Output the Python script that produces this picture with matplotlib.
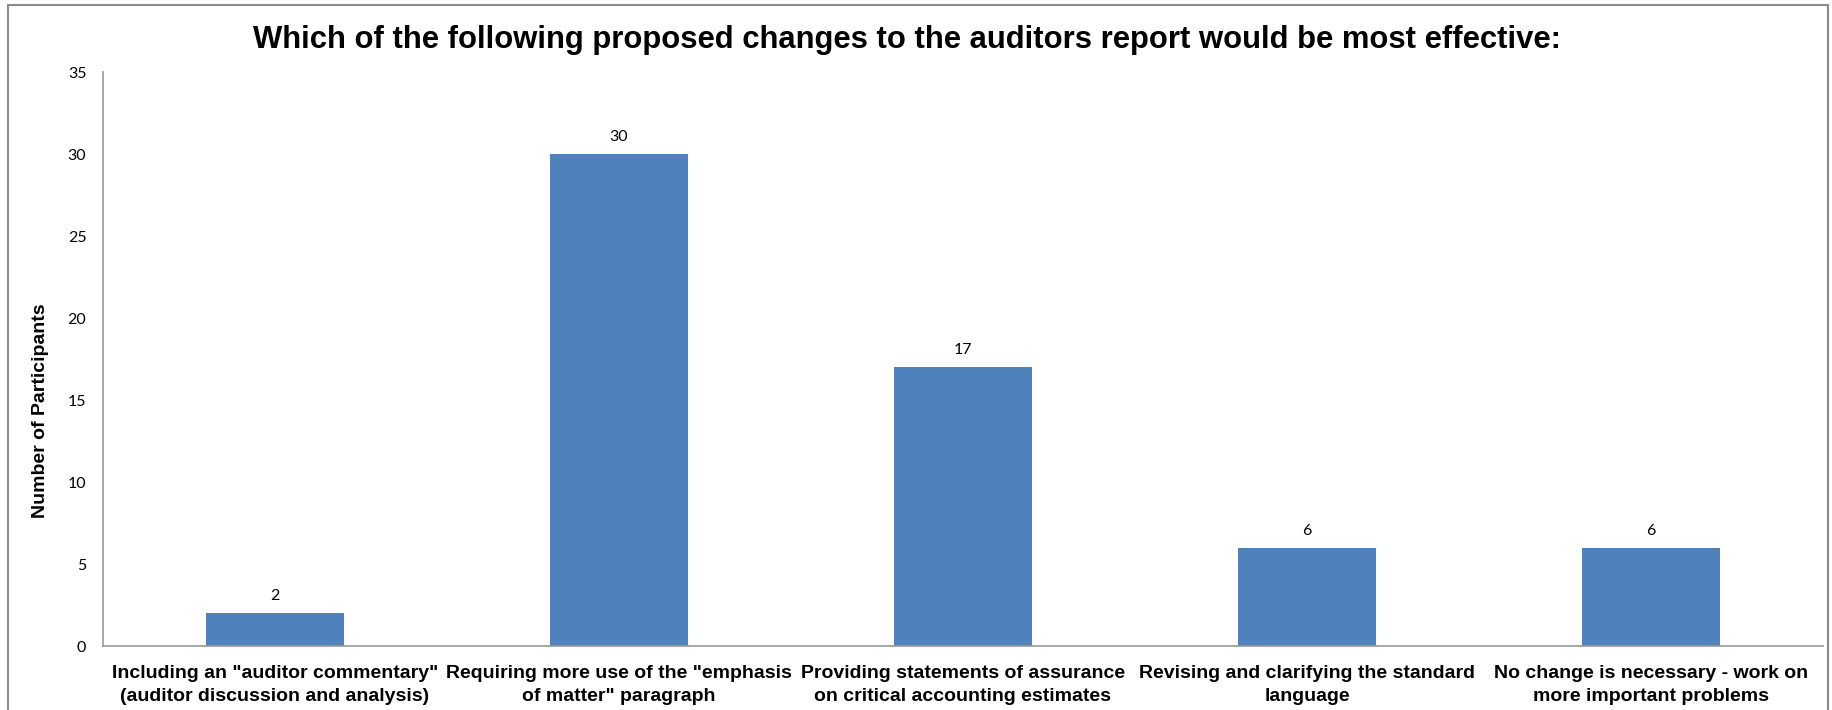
import matplotlib.pyplot as plt
from matplotlib.patches import Rectangle
import numpy as np

# === data ===
categories = ['Including an "auditor commentary"\n(auditor discussion and analysis)',
              'Requiring more use of the "emphasis\nof matter" paragraph',
              'Providing statements of assurance\non critical accounting estimates',
              'Revising and clarifying the standard\nlanguage',
              'No change is necessary - work on\nmore important problems']
participants = [2, 30, 17, 6, 6]
y_ticks = [0, 5, 10, 15, 20, 25, 30, 35]

W, H = 1832, 710
fig = plt.figure(figsize=(W / 100, H / 100), dpi=100)

# axes box in pixels: left 103, right 1823, top 72, bottom 646
ax = fig.add_axes([103 / W, 1 - 646 / H, (1823 - 103) / W, (646 - 72) / H])

x = np.arange(len(categories))
bars = ax.bar(x, participants, width=0.4, color='#4F81BD', zorder=2)

for xi, v in zip(x, participants):
    ax.annotate(str(v), (xi, v), xytext=(0, 7), textcoords='offset points',
                ha='center', va='bottom', fontsize=11.5, family='Lato')

ax.set_xlim(-0.5, len(categories) - 0.5)
ax.set_ylim(0, 35)
ax.set_yticks(y_ticks)
ax.set_yticklabels([str(t) for t in y_ticks], family='Lato', fontsize=11.5)
ax.set_xticks(x)
ax.set_xticklabels(categories, family='Liberation Sans', fontweight='bold',
                   fontsize=14, linespacing=1.4)
ax.tick_params(axis='both', length=0)
ax.tick_params(axis='y', pad=12)
ax.tick_params(axis='x', pad=14)

for side in ['top', 'right']:
    ax.spines[side].set_visible(False)
for side in ['left', 'bottom']:
    ax.spines[side].set_color('#999999')
    ax.spines[side].set_linewidth(1.2)

# title and y label
fig.text(907 / W, 1 - 40 / H, 'Which of the following proposed changes to the auditors report would be most effective:',
         ha='center', va='center', fontsize=22.3, fontweight='bold', family='Liberation Sans')
fig.text(41 / W, 1 - 411 / H, 'Number of Participants', rotation=90, ha='center', va='center',
         fontsize=14, fontweight='bold', family='Liberation Sans')

# outer chart border
fig.patches.append(Rectangle((8 / W, -0.05), (1828 - 8) / W, 1.05 - 5 / H,
                             transform=fig.transFigure, fill=False,
                             edgecolor='#8c8c8c', linewidth=1.5))

plt.savefig('out.png', dpi=100)
